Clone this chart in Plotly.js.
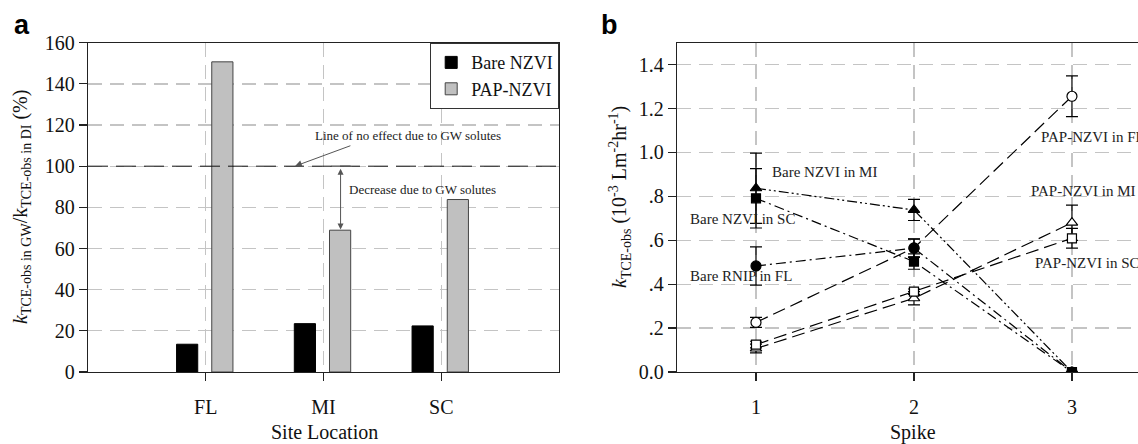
<!DOCTYPE html>
<html>
<head>
<meta charset="utf-8">
<script src="https://cdn.plot.ly/plotly-3.0.1.min.js"></script>
<style>
html,body{margin:0;padding:0;background:#fff;}
#chart{width:1138px;height:444px;}
#chart .xtick text, #chart .ytick text, #chart .x2tick text, #chart .y2tick text {
  font-family: "Liberation Serif", "Times New Roman", serif !important;
  font-size: 20px !important;
}
</style>
</head>
<body>
<div id="chart"></div>
<script>
// ---- Panel a data ----
const sites = ["FL", "MI", "SC"];
const bareNZVI = [13.5, 23.5, 22.4];
const papNZVI = [150.7, 68.9, 83.8];
const yTicksA = [0, 20, 40, 60, 80, 100, 120, 140, 160];

// ---- Panel b data ----
const spikes = [1, 2, 3];
const papFL = [0.226, 0.565, 1.256];
const papFLerr = [0.023, 0.040, 0.093];
const papMI = [0.107, 0.336, 0.680];
const papMIerr = [0.020, 0.030, 0.080];
const papSC = [0.125, 0.366, 0.609];
const papSCerr = [0.015, 0.012, 0.045];
const bareMI = [0.837, 0.738, 0];
const bareMIerr = [0.160, 0.048, 0];
const bareSC = [0.791, 0.503, 0];
const bareSCerr = [0.135, 0.035, 0];
const bareFL = [0.483, 0.564, 0];
const bareFLerr = [0.087, 0.042, 0];
const yTickValsB = [0, 0.2, 0.4, 0.6, 0.8, 1.0, 1.2, 1.4];
const yTickTextB = ["0.0", ".2", ".4", ".6", ".8", "1.0", "1.2", "1.4"];

const W = 1138, H = 444;
const px = v => v / W;
const py = v => 1 - v / H;
const serif = "Liberation Serif";
const sans = "Liberation Sans";
const gridCol = "#c4c4c4";

const traces = [
  {type: "bar", name: "Bare NZVI", x: sites, y: bareNZVI, xaxis: "x", yaxis: "y",
   width: 0.18, offset: -0.248, marker: {color: "#000", line: {color: "#000", width: 1}}},
  {type: "bar", name: "PAP-NZVI", x: sites, y: papNZVI, xaxis: "x", yaxis: "y",
   width: 0.18, offset: 0.051, marker: {color: "#c0c0c0", line: {color: "#444", width: 1}}}
];

function series(y, err, symbol, fill, dash, size) {
  return {type: "scatter", mode: "lines+markers", x: spikes, y: y, xaxis: "x2", yaxis: "y2",
    showlegend: false,
    line: {color: "#000", width: 1.2, dash: dash},
    marker: {symbol: symbol, size: size, color: fill, line: {color: "#000", width: 1.2}},
    error_y: {type: "data", array: err, visible: true, color: "#000", thickness: 1.2, width: 6}};
}
const longDash = "13px,6px";
const dashDot = "10px,4px,2px,4px";
const dashDotDot = "10px,3px,2px,3px,2px,3px";
traces.push(series(papFL, papFLerr, "circle", "#fff", longDash, 10));
traces.push(series(papMI, papMIerr, "triangle-up", "#fff", longDash, 10));
traces.push(series(papSC, papSCerr, "square", "#fff", longDash, 9));
traces.push(series(bareMI, bareMIerr, "triangle-up", "#000", dashDotDot, 10));
traces.push(series(bareSC, bareSCerr, "square", "#000", dashDot, 9));
traces.push(series(bareFL, bareFLerr, "circle", "#000", dashDot, 10));

function axis(extra) {
  return Object.assign({
    showline: true, linecolor: "#222", linewidth: 1.2,
    ticks: "outside", ticklen: 8, tickcolor: "#222", tickwidth: 1.2,
    tickfont: {family: serif, size: 20, color: "#111"},
    showgrid: true, gridcolor: gridCol, gridwidth: 1.3, griddash: "14px,8px",
    zeroline: false, fixedrange: true
  }, extra);
}

const yDomain = [py(372), py(42.7)];

function note(text, x, y, size, extra) {
  return Object.assign({text: text, xref: "paper", yref: "paper", x: px(x), y: py(y),
    xanchor: "center", yanchor: "middle", showarrow: false,
    font: {family: serif, size: size, color: "#222"}}, extra || {});
}

const layout = {
  width: W, height: H,
  margin: {l: 0, r: 0, t: 0, b: 0},
  paper_bgcolor: "#fff", plot_bgcolor: "#fff",
  font: {family: serif, size: 20, color: "#111"},
  barmode: "group",
  showlegend: true,
  legend: {x: px(559), xanchor: "right", y: py(43), yanchor: "top",
    bordercolor: "#333", borderwidth: 1.2, bgcolor: "#fff",
    font: {family: serif, size: 18, color: "#111"}, tracegroupgap: 4},
  xaxis: axis({domain: [px(88), px(559)], type: "category",
    range: [-1, 3], mirror: true, ticklabelstandoff: 9}),
  yaxis: axis({domain: yDomain, range: [0, 160], tickvals: yTicksA, mirror: true}),
  xaxis2: axis({domain: [px(677), 1], range: [0.5, 3.418],
    tickvals: spikes, mirror: true, anchor: "y2", ticklabelstandoff: 9}),
  yaxis2: axis({domain: yDomain, range: [0, 1.5],
    tickvals: yTickValsB, ticktext: yTickTextB, anchor: "x2", mirror: false}),
  shapes: [
    {type: "line", xref: "x domain", yref: "y", x0: 0, x1: 1, y0: 100, y1: 100,
     line: {color: "#111", width: 1, dash: "20px,8px"}},
    {type: "line", xref: "x", yref: "y", x0: 1.068, x1: 1.23, y0: 100, y1: 100,
     line: {color: "#555", width: 1.2}}
  ],
  annotations: [
    note("<b>a</b>", 22, 25, 27, {font: {family: sans, size: 27, color: "#000"}}),
    note("<b>b</b>", 609, 25, 27, {font: {family: sans, size: 27, color: "#000"}}),
    note("<i>k</i><sub>TCE-obs in GW</sub>/k<sub>TCE-obs in DI</sub> (%)", 21, 207, 20, {textangle: -90, font: {family: serif, size: 20, color: "#111"}}),
    note("Site Location", 324, 432, 20, {font: {family: serif, size: 20, color: "#111"}}),
    note("<i>k</i><sub>TCE-obs</sub> (10<sup>-3</sup> Lm<sup>-2</sup>hr<sup>-1</sup>)", 620, 197, 20, {textangle: -90, font: {family: serif, size: 20, color: "#111"}}),
    note("Spike", 913, 432, 20, {font: {family: serif, size: 20, color: "#111"}}),
    // panel a notes
    note("Line of no effect due to GW solutes", 408, 135, 13),
    {text: "", xref: "x", yref: "y", x: 0.757, y: 100, ax: 57, ay: -21, showarrow: true,
     arrowhead: 2, arrowsize: 1.4, arrowwidth: 1, arrowcolor: "#555"},
    note("Decrease due to GW solutes", 347, 189, 13, {xanchor: "left"}),
    {text: "", xref: "x", yref: "y", axref: "x", ayref: "y", x: 1.145, y: 69.2, ax: 1.145, ay: 99.5,
     showarrow: true, arrowside: "end+start", arrowhead: 2, startarrowhead: 2, arrowsize: 1.2,
     startarrowsize: 1.2, arrowwidth: 1, arrowcolor: "#555"},
    // panel b labels
    note("Bare NZVI in MI", 770, 172, 15, {xanchor: "left"}),
    note("Bare NZVI in SC", 688, 219, 15, {xanchor: "left"}),
    note("Bare RNIP in FL", 688, 276, 15, {xanchor: "left"}),
    note("PAP-NZVI in FL", 1039, 137, 15, {xanchor: "left"}),
    note("PAP-NZVI in MI", 1029, 191, 15, {xanchor: "left"}),
    note("PAP-NZVI in SC", 1033, 263, 15, {xanchor: "left"})
  ]
};

Plotly.newPlot("chart", traces, layout, {staticPlot: true, displayModeBar: false});
</script>
</body>
</html>
